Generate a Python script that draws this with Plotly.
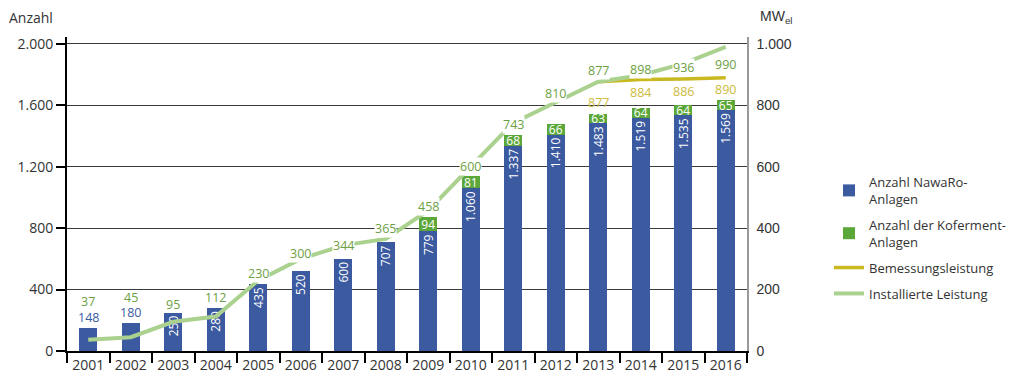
import plotly.graph_objects as go

# ---------------- data ----------------
years = [str(y) for y in range(2001, 2017)]
nawaro = [148, 180, 250, 280, 435, 520, 600, 707, 779, 1060, 1337, 1410, 1483, 1519, 1535, 1569]
koferment = [None, None, None, None, None, None, None, None, 94, 81, 68, 66, 63, 64, 64, 65]
installiert = [37, 45, 95, 112, 230, 300, 344, 365, 458, 600, 743, 810, 877, 898, 936, 990]
bemessung_years = ["2013", "2014", "2015", "2016"]
bemessung = [877, 884, 886, 890]
left_ticks = [0, 400, 800, 1200, 1600, 2000]
right_ticks = [0, 200, 400, 600, 800, 1000]

# ---------------- style ----------------
BLUE = "#3B5A9F"
GREEN = "#5CA73A"
YELLOW = "#C9B820"
LIGHTGREEN = "#ABD18F"
GREEN_TXT = "#6C9F43"
YELLOW_TXT = "#CDBB3C"
TXT = "#333333"
FONT = "Open Sans"
LBL = 12.5
# label offsets (px) for the value labels of the lines
inst_label_shift = [38, 40, 17, 19, 7, 5, 0, 10, 4, 0, -2, 9, 11, 6, -4, -18]
bem_label_shift = [-21, -13, -13, -12]

W, H = 1024, 391
L, R, T, B = 67, 277, 37, 40
PW, PH = W - L - R, H - T - B


def de(n):
    return f"{n:,}".replace(",", ".")


def px_to_paper(px, py):
    return (px - L) / PW, (H - B - py) / PH


fig = go.Figure()

fig.add_trace(go.Bar(
    x=years, y=nawaro, name="Anzahl NawaRo-<br>Anlagen", legendgroup="a",
    marker=dict(color=BLUE, line=dict(width=0)), width=0.43,
    text=[de(v) if v >= 200 else "" for v in nawaro],
    textposition="inside", insidetextanchor="end", textangle=-90,
    textfont=dict(color="white", size=12, family=FONT),
    constraintext="none", hoverinfo="skip",
))
fig.add_trace(go.Bar(
    x=years, y=koferment, name="Anzahl der Koferment-<br>Anlagen", legendgroup="b",
    marker=dict(color=GREEN, line=dict(width=0)), width=0.43,
    text=[de(v) if v else "" for v in koferment],
    textposition="inside", insidetextanchor="middle", textangle=0,
    textfont=dict(color="white", size=12, family=FONT),
    constraintext="none", hoverinfo="skip",
))
fig.add_trace(go.Scatter(
    x=bemessung_years, y=bemessung, name="Bemessungsleistung", yaxis="y2", legendgroup="c",
    mode="lines", line=dict(color=YELLOW, width=3.5), hoverinfo="skip",
))
fig.add_trace(go.Scatter(
    x=years, y=installiert, name="Installierte Leistung", yaxis="y2", legendgroup="d",
    mode="lines", line=dict(color=LIGHTGREEN, width=4), hoverinfo="skip",
))

ann = []
for i, v in enumerate(nawaro):
    if v < 200:
        ann.append(dict(x=i, y=v, xref="x", yref="y", text=de(v), showarrow=False,
                        yanchor="bottom", yshift=0,
                        font=dict(color=BLUE, size=LBL, family=FONT)))
for i, (v, s) in enumerate(zip(installiert, inst_label_shift)):
    ann.append(dict(x=i, y=v, xref="x", yref="y2", text=de(v), showarrow=False,
                    yshift=s, bgcolor="white" if abs(s) < 15 else "rgba(0,0,0,0)",
                    borderpad=0,
                    font=dict(color=GREEN_TXT, size=LBL, family=FONT)))
for yr, v, s in zip(bemessung_years, bemessung, bem_label_shift):
    ann.append(dict(x=years.index(yr), y=v, xref="x", yref="y2", text=de(v), showarrow=False,
                    yshift=s, font=dict(color=YELLOW_TXT, size=LBL, family=FONT)))

ax, ay = px_to_paper(7, 17)
ann.append(dict(x=ax, y=ay, xref="paper", yref="paper", text="Anzahl",
                showarrow=False, xanchor="left", yanchor="middle",
                font=dict(color=TXT, size=14, family=FONT)))
bx, by = px_to_paper(758, 17)
ann.append(dict(x=bx, y=by, xref="paper", yref="paper", text="MW<sub>el</sub>",
                showarrow=False, xanchor="left", yanchor="middle",
                font=dict(color=TXT, size=14, family="Liberation Sans")))

fig.update_layout(
    width=W, height=H,
    margin=dict(l=L, r=R, t=T, b=B, pad=0),
    paper_bgcolor="white", plot_bgcolor="white",
    barmode="stack", bargap=0.57,
    showlegend=True,
    legend=dict(xref="container", yref="container", x=829 / W, y=1 - 167 / H,
                xanchor="left", yanchor="top", traceorder="grouped",
                font=dict(color=TXT, size=13, family=FONT),
                bgcolor="rgba(0,0,0,0)", tracegroupgap=6, itemwidth=30),
    annotations=ann,
    xaxis=dict(type="category", tickson="boundaries", ticks="outside", ticklen=10,
               tickcolor="black", tickwidth=1.5, showline=True, linecolor="black", linewidth=2,
               showgrid=False, tickfont=dict(color=TXT, size=14, family=FONT),
               range=[-0.5, 15.5]),
    yaxis=dict(range=[0, 2045], tickvals=left_ticks, ticktext=[de(v) for v in left_ticks],
               ticks="outside", ticklen=9, tickcolor="black", tickwidth=1.5,
               showline=True, linecolor="black", linewidth=2,
               showgrid=True, gridcolor="#3a3a3a", gridwidth=1, zeroline=False,
               tickfont=dict(color=TXT, size=14, family=FONT)),
    yaxis2=dict(range=[0, 1022.5], overlaying="y", side="right",
                tickvals=right_ticks, ticktext=[de(v) for v in right_ticks],
                ticks="", showline=True, linecolor="#9a9a9a", linewidth=1.5,
                showgrid=False, zeroline=False, ticklabelstandoff=5,
                tickfont=dict(color=TXT, size=14, family="Liberation Sans")),
)

fig.write_html("out.html", config={"displayModeBar": False},
               post_script="document.body.style.margin='0';")
